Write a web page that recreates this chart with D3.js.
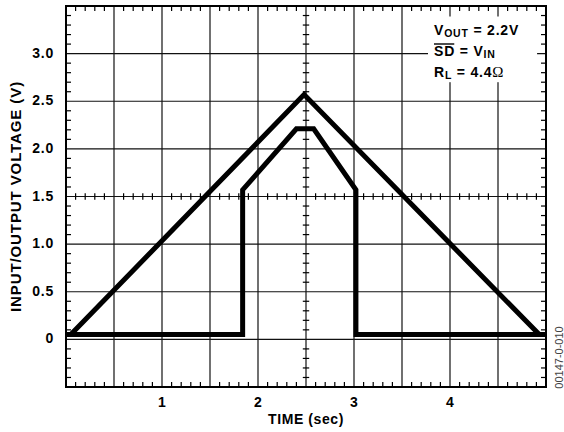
<!DOCTYPE html>
<html>
<head>
<meta charset="utf-8">
<script src="https://cdn.jsdelivr.net/npm/d3@7/dist/d3.min.js"></script>
<style>
  html, body { margin: 0; padding: 0; background: #fff; }
  svg { display: block; }
  text { font-family: "Liberation Sans", Arial, Helvetica, sans-serif; }
</style>
</head>
<body>
<svg id="chart" width="564" height="432"></svg>
<script>
// ---- data ----
const xTickValues = [1, 2, 3, 4];
const xTickLabels = ["1", "2", "3", "4"];
const yTickValues = [0, 0.5, 1.0, 1.5, 2.0, 2.5, 3.0];
const yTickLabels = ["0", "0.5", "1.0", "1.5", "2.0", "2.5", "3.0"];

// input voltage (triangle ramp)
const inputTime = [0.05, 2.48, 4.93];
const inputVolt = [0.05, 2.57, 0.05];

// output voltage
const outputTime = [0.0, 1.84, 1.84, 2.40, 2.58, 3.02, 3.02, 5.0];
const outputVolt = [0.05, 0.05, 1.57, 2.21, 2.21, 1.57, 0.05, 0.05];

const xTitle = "TIME (sec)";
const yTitle = "INPUT/OUTPUT VOLTAGE (V)";
const figureCode = "00147-0-010";

(function () {
// ---- layout ----
const svg = d3.select("#chart");
const mLeft = 66, mRight = 546, mTop = 6, mBottom = 387;
const xDomain = [0, 5], yDomain = [-0.5, 3.5];
const x = d3.scaleLinear().domain(xDomain).range([mLeft, mRight]);
const y = d3.scaleLinear().domain(yDomain).range([mBottom, mTop]);

const isMajor = v => Math.abs(v * 2 - Math.round(v * 2)) < 1e-6;
const gridX = d3.range(0.5, 5, 0.5);
const gridY = d3.range(0, 3.5, 0.5);
const minorX = d3.range(1, 50).map(i => i / 10).filter(v => !isMajor(v));
const minorY = d3.range(-4, 35).map(i => i / 10).filter(v => !isMajor(v));

const g = svg.append("g");

// grid lines
g.selectAll("line.gx").data(gridX).join("line")
  .attr("x1", d => x(d)).attr("x2", d => x(d))
  .attr("y1", y(yDomain[0])).attr("y2", y(yDomain[1]))
  .attr("stroke", "#111").attr("stroke-width", 1.2);
g.selectAll("line.gy").data(gridY).join("line")
  .attr("y1", d => y(d)).attr("y2", d => y(d))
  .attr("x1", x(xDomain[0])).attr("x2", x(xDomain[1]))
  .attr("stroke", "#111").attr("stroke-width", 1.2);

// minor ticks on borders and centre cross
const tl = 5, cl = 3.2;
const tickAttrs = sel => sel.attr("stroke", "#000").attr("stroke-width", 1.2);
const addTicks = (data, fn) => g.append("g").selectAll("line").data(data).join("line").each(fn).call(tickAttrs);
addTicks(minorX, function (d) { d3.select(this).attr("x1", x(d)).attr("x2", x(d)).attr("y1", y(yDomain[1])).attr("y2", y(yDomain[1]) + tl); });
addTicks(minorX, function (d) { d3.select(this).attr("x1", x(d)).attr("x2", x(d)).attr("y1", y(yDomain[0])).attr("y2", y(yDomain[0]) - tl); });
addTicks(minorY, function (d) { d3.select(this).attr("y1", y(d)).attr("y2", y(d)).attr("x1", x(xDomain[0])).attr("x2", x(xDomain[0]) + tl); });
addTicks(minorY, function (d) { d3.select(this).attr("y1", y(d)).attr("y2", y(d)).attr("x1", x(xDomain[1])).attr("x2", x(xDomain[1]) - tl); });
addTicks(minorX, function (d) { d3.select(this).attr("x1", x(d)).attr("x2", x(d)).attr("y1", y(1.5) - cl).attr("y2", y(1.5) + cl); });
addTicks(minorY, function (d) { d3.select(this).attr("y1", y(d)).attr("y2", y(d)).attr("x1", x(2.5) - cl).attr("x2", x(2.5) + cl); });

// legend (white box over grid)
const leg = svg.append("g").attr("font-weight", "bold").attr("font-size", 14)
  .attr("letter-spacing", "0.8px").attr("fill", "#000");
const legX = 434;
const t1 = leg.append("text").attr("x", legX).attr("y", 34.5);
t1.append("tspan").text("V");
t1.append("tspan").attr("font-size", 10.5).attr("dy", 2.5).text("OUT");
t1.append("tspan").attr("dy", -2.5).text(" = 2.2V");
const t2 = leg.append("text").attr("x", legX).attr("y", 55.7);
const sdSpan = t2.append("tspan").text("SD");
t2.append("tspan").text(" = V");
t2.append("tspan").attr("font-size", 10.5).attr("dy", 2.5).text("IN");
const t3 = leg.append("text").attr("x", legX).attr("y", 76.7);
t3.append("tspan").text("R");
t3.append("tspan").attr("font-size", 10.5).attr("dy", 2.5).text("L");
t3.append("tspan").attr("dy", -2.5).text(" = 4.4");
t3.append("tspan").attr("font-family", "'Liberation Serif', 'Times New Roman', serif")
  .attr("font-weight", "normal").attr("font-size", 15).text("\u03A9");
const bb = leg.node().getBBox();
leg.insert("rect", ":first-child")
  .attr("x", bb.x - 6).attr("y", bb.y - 5)
  .attr("width", bb.width + 24).attr("height", bb.height + 6)
  .attr("fill", "#fff");
const sdLen = sdSpan.node().getComputedTextLength();
leg.append("line")
  .attr("x1", legX).attr("x2", legX + sdLen - 0.8)
  .attr("y1", 44).attr("y2", 44)
  .attr("stroke", "#000").attr("stroke-width", 1.4);

// frame
svg.append("rect")
  .attr("x", x(xDomain[0])).attr("y", y(yDomain[1]))
  .attr("width", x(xDomain[1]) - x(xDomain[0]))
  .attr("height", y(yDomain[0]) - y(yDomain[1]))
  .attr("fill", "none").attr("stroke", "#000").attr("stroke-width", 2);

// traces
const line = d3.line().x(d => x(d[0])).y(d => y(d[1]));
const inputPts = inputTime.map((t, i) => [t, inputVolt[i]]);
const outputPts = outputTime.map((t, i) => [t, outputVolt[i]]);
svg.append("path").attr("d", line(inputPts))
  .attr("fill", "none").attr("stroke", "#000").attr("stroke-width", 5)
  .attr("stroke-linejoin", "miter");
svg.append("path").attr("d", line(outputPts))
  .attr("fill", "none").attr("stroke", "#000").attr("stroke-width", 5)
  .attr("stroke-linejoin", "miter");

// axis labels
svg.append("g").selectAll("text").data(yTickValues).join("text")
  .attr("x", mLeft - 12).attr("y", d => y(d)).attr("dy", 4)
  .attr("text-anchor", "end").attr("font-weight", "bold").attr("font-size", 14)
  .attr("letter-spacing", "0.8px")
  .text((d, i) => yTickLabels[i]);
svg.append("g").selectAll("text").data(xTickValues).join("text")
  .attr("x", d => x(d)).attr("y", 407)
  .attr("text-anchor", "middle").attr("font-weight", "bold").attr("font-size", 14)
  .text((d, i) => xTickLabels[i]);

svg.append("text").attr("x", x(2.5)).attr("y", 424)
  .attr("text-anchor", "middle").attr("font-weight", "bold").attr("font-size", 14)
  .attr("letter-spacing", "0.6px")
  .text(xTitle);
svg.append("text").attr("transform", `translate(21,${y(1.5)}) rotate(-90)`)
  .attr("text-anchor", "middle").attr("font-weight", "bold").attr("font-size", 15)
  .attr("letter-spacing", "0.9px")
  .text(yTitle);
svg.append("text").attr("transform", `translate(563,357.5) rotate(-90)`)
  .attr("text-anchor", "middle").attr("font-size", 11).attr("fill", "#444")
  .text(figureCode);
})();
</script>
</body>
</html>
